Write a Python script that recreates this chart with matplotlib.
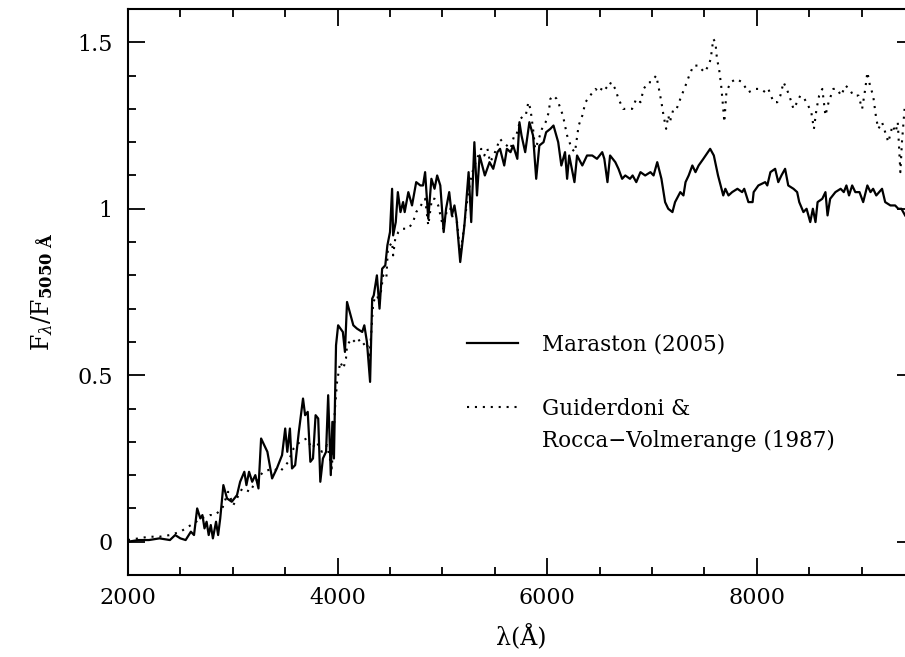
import matplotlib
matplotlib.use('Agg')
import matplotlib.pyplot as plt
from matplotlib.lines import Line2D
from matplotlib.ticker import MultipleLocator, FuncFormatter

# Maraston (2005) model spectrum
lam_m = [2000, 2100, 2200, 2300, 2400, 2450, 2500, 2550, 2600, 2630, 2660, 2690, 2710, 2730,
         2750, 2770, 2790, 2810, 2840, 2860, 2880, 2910, 2945, 2990, 3040, 3070, 3110, 3130,
         3155, 3185, 3215, 3245, 3270, 3300, 3330, 3375, 3420, 3470, 3500, 3520, 3545, 3565,
         3595, 3630, 3670, 3690, 3715, 3740, 3765, 3790, 3815, 3835, 3860, 3890, 3910, 3935,
         3950, 3965, 3985, 4005, 4050, 4070, 4090, 4150, 4185, 4235, 4255, 4280, 4310, 4330,
         4345, 4375, 4400, 4425, 4455, 4475, 4500, 4520, 4530, 4555, 4575, 4600, 4625, 4640,
         4675, 4710, 4750, 4790, 4815, 4835, 4865, 4895, 4925, 4950, 4980, 5012, 5035, 5065,
         5090, 5115, 5135, 5170, 5210, 5250, 5275, 5305, 5330, 5355, 5405, 5450, 5485, 5525,
         5550, 5590, 5615, 5650, 5675, 5715, 5735, 5755, 5790, 5830, 5865, 5895, 5925, 5965,
         5990, 6030, 6060, 6105, 6135, 6170, 6190, 6210, 6260, 6285, 6335, 6380, 6430, 6475,
         6525, 6545, 6575, 6600, 6650, 6680, 6715, 6745, 6790, 6815, 6850, 6890, 6935, 6985,
         7015, 7050, 7090, 7125, 7155, 7195, 7220, 7270, 7300, 7320, 7350, 7385, 7415, 7445,
         7490, 7555, 7590, 7630, 7655, 7680, 7700, 7730, 7765, 7815, 7860, 7880, 7920, 7960,
         7970, 8015, 8080, 8100, 8130, 8175, 8205, 8235, 8270, 8300, 8350, 8385, 8405, 8445,
         8475, 8510, 8535, 8560, 8580, 8625, 8655, 8675, 8700, 8750, 8800, 8830, 8855, 8880,
         8910, 8940, 8980, 9015, 9055, 9085, 9110, 9140, 9195, 9225, 9275, 9320, 9350, 9380,
         9415]
flux_m = [0.00, 0.005, 0.005, 0.01, 0.005, 0.02, 0.01, 0.005, 0.03, 0.02, 0.10, 0.07, 0.08, 0.04,
          0.06, 0.02, 0.05, 0.01, 0.06, 0.02, 0.07, 0.17, 0.13, 0.12, 0.14, 0.18, 0.21, 0.17,
          0.21, 0.18, 0.20, 0.16, 0.31, 0.29, 0.27, 0.19, 0.22, 0.26, 0.34, 0.27, 0.34, 0.22,
          0.23, 0.33, 0.43, 0.38, 0.39, 0.24, 0.25, 0.38, 0.37, 0.18, 0.25, 0.27, 0.44, 0.20,
          0.36, 0.25, 0.59, 0.65, 0.63, 0.57, 0.72, 0.65, 0.64, 0.63, 0.65, 0.60, 0.48, 0.73,
          0.74, 0.80, 0.70, 0.82, 0.83, 0.89, 0.93, 1.06, 0.92, 0.96, 1.05, 0.99, 1.02, 0.99,
          1.05, 1.01, 1.08, 1.07, 1.07, 1.11, 0.97, 1.09, 1.06, 1.10, 1.07, 0.93, 1.00, 1.05,
          0.98, 1.01, 0.97, 0.84, 0.95, 1.11, 0.96, 1.20, 1.04, 1.16, 1.10, 1.14, 1.12, 1.17,
          1.18, 1.13, 1.18, 1.17, 1.19, 1.15, 1.26, 1.22, 1.17, 1.26, 1.22, 1.09, 1.19, 1.20,
          1.23, 1.24, 1.25, 1.20, 1.13, 1.17, 1.09, 1.16, 1.08, 1.16, 1.13, 1.16, 1.16, 1.15,
          1.17, 1.15, 1.08, 1.16, 1.14, 1.12, 1.09, 1.10, 1.09, 1.10, 1.08, 1.11, 1.10, 1.11,
          1.10, 1.14, 1.09, 1.02, 1.00, 0.99, 1.02, 1.05, 1.04, 1.08, 1.10, 1.13, 1.11, 1.13,
          1.15, 1.18, 1.16, 1.10, 1.07, 1.04, 1.06, 1.04, 1.05, 1.06, 1.05, 1.06, 1.02, 1.02,
          1.05, 1.07, 1.08, 1.07, 1.11, 1.12, 1.08, 1.10, 1.12, 1.07, 1.06, 1.05, 1.02, 0.99,
          1.00, 0.96, 1.00, 0.96, 1.02, 1.03, 1.05, 0.98, 1.03, 1.05, 1.06, 1.05, 1.07, 1.04,
          1.07, 1.05, 1.05, 1.02, 1.07, 1.05, 1.06, 1.04, 1.06, 1.02, 1.01, 1.01, 1.00, 1.00,
          0.98]

# Guiderdoni & Rocca-Volmerange (1987)
lam_g = [2000, 2100, 2200, 2300, 2400, 2500, 2600, 2700, 2780, 2830, 2900, 2955, 3005, 3090,
         3165, 3215, 3290, 3385, 3450, 3530, 3580, 3640, 3705, 3755, 3800, 3850, 3900, 3945,
         3975, 3995, 4025, 4055, 4080, 4090, 4135, 4165, 4195, 4235, 4280, 4300, 4320, 4340,
         4375, 4400, 4435, 4465, 4480, 4520, 4530, 4550, 4580, 4615, 4640, 4675, 4720, 4750,
         4795, 4835, 4865, 4900, 4925, 4960, 5010, 5045, 5080, 5100, 5140, 5170, 5200, 5235,
         5265, 5295, 5330, 5370, 5400, 5430, 5455, 5490, 5550, 5575, 5615, 5650, 5685, 5705,
         5745, 5775, 5795, 5820, 5840, 5865, 5885, 5910, 5950, 5985, 6015, 6030, 6060, 6090,
         6105, 6150, 6190, 6235, 6265, 6300, 6335, 6365, 6410, 6460, 6500, 6535, 6575, 6610,
         6650, 6680, 6725, 6760, 6810, 6850, 6890, 6920, 6965, 6990, 7040, 7060, 7090, 7110,
         7135, 7155, 7170, 7205, 7235, 7270, 7320, 7355, 7395, 7445, 7470, 7500, 7540, 7560,
         7585, 7605, 7620, 7640, 7660, 7680, 7690, 7710, 7750, 7805, 7860, 7920, 7985, 8040,
         8080, 8110, 8160, 8195, 8225, 8255, 8285, 8310, 8350, 8385, 8415, 8455, 8490, 8520,
         8545, 8570, 8595, 8625, 8655, 8685, 8730, 8765, 8805, 8845, 8885, 8920, 8970, 9005,
         9035, 9055, 9080, 9110, 9140, 9160, 9195, 9225, 9255, 9295, 9325, 9345, 9370, 9385,
         9410]
flux_g = [0.005, 0.01, 0.015, 0.015, 0.02, 0.03, 0.05, 0.07, 0.08, 0.08, 0.10, 0.15, 0.11, 0.16,
          0.15, 0.18, 0.21, 0.22, 0.21, 0.24, 0.28, 0.30, 0.31, 0.28, 0.30, 0.27, 0.29, 0.22,
          0.40, 0.48, 0.54, 0.52, 0.55, 0.59, 0.61, 0.60, 0.61, 0.59, 0.60, 0.55, 0.62, 0.72,
          0.74, 0.72, 0.80, 0.79, 0.88, 0.90, 0.86, 0.91, 0.93, 0.94, 0.94, 0.94, 0.96, 0.99,
          1.01, 1.03, 0.95, 1.03, 1.03, 1.01, 0.94, 1.00, 1.00, 0.97, 0.96, 0.86, 0.93, 1.02,
          1.08, 1.12, 1.15, 1.18, 1.16, 1.18, 1.14, 1.16, 1.21, 1.20, 1.19, 1.18, 1.22, 1.22,
          1.27, 1.28, 1.28, 1.32, 1.30, 1.24, 1.18, 1.20, 1.24, 1.26, 1.29, 1.33, 1.34, 1.33,
          1.32, 1.28, 1.22, 1.18, 1.17, 1.25, 1.28, 1.32, 1.34, 1.36, 1.35, 1.37, 1.36, 1.38,
          1.36, 1.33, 1.30, 1.30, 1.30, 1.33, 1.32, 1.36, 1.38, 1.38, 1.40, 1.37, 1.32, 1.28,
          1.24, 1.28, 1.26, 1.30, 1.30, 1.33, 1.37, 1.40, 1.43, 1.43, 1.42, 1.41, 1.43, 1.45,
          1.51, 1.50, 1.45, 1.42, 1.37, 1.30, 1.26, 1.35, 1.38, 1.39, 1.38, 1.35, 1.36, 1.36,
          1.35, 1.36, 1.32, 1.32, 1.34, 1.38, 1.36, 1.34, 1.30, 1.32, 1.34, 1.33, 1.31, 1.29,
          1.24, 1.30, 1.34, 1.36, 1.28, 1.32, 1.36, 1.36, 1.34, 1.37, 1.36, 1.34, 1.34, 1.30,
          1.36, 1.41, 1.37, 1.34, 1.27, 1.24, 1.26, 1.23, 1.20, 1.25, 1.23, 1.26, 1.11, 1.20,
          1.30]

labels = ['Maraston (2005)', 'Guiderdoni &', 'Rocca\u2212Volmerange (1987)']

plt.rcParams['font.family'] = ['DejaVu Serif']
plt.rcParams['mathtext.fontset'] = 'dejavuserif'

fig = plt.figure(figsize=(9.05, 6.57), dpi=100)
# right spine sits just beyond the picture edge, as in the original
ax = fig.add_axes([128/905, 1 - 575/657, 786/905, 566/657])

ax.plot(lam_m, flux_m, color='black', lw=1.6)
ax.plot(lam_g, flux_g, color='black', lw=1.5, linestyle=(0, (1, 2.8)))

ax.set_xlim(2000, 9500)
ax.set_ylim(-0.1, 1.6)

ax.xaxis.set_major_locator(MultipleLocator(2000))
ax.xaxis.set_minor_locator(MultipleLocator(500))
ax.yaxis.set_major_locator(MultipleLocator(0.5))
ax.yaxis.set_minor_locator(MultipleLocator(0.1))
ax.yaxis.set_major_formatter(FuncFormatter(lambda v, p: '{:g}'.format(round(v, 2))))

ax.tick_params(which='both', direction='in', top=True, right=True, width=1.3,
               labelsize=16)
ax.tick_params(which='major', length=12, pad=9)
ax.tick_params(axis='y', which='major', pad=11)
ax.tick_params(which='minor', length=6)
for s in ax.spines.values():
    s.set_linewidth(1.5)

ax.set_xlabel('\u03bb(\u00c5)', fontsize=17, labelpad=11)
ax.set_ylabel(r'$\mathrm{F}_{\lambda}/\mathrm{F}_{\mathbf{5050\ \AA}}$', fontsize=17, labelpad=16)

handles = [Line2D([], [], color='black', lw=1.6),
           Line2D([], [], color='none'),
           Line2D([], [], color='black', lw=1.5, linestyle=(0, (1, 2.8))),
           Line2D([], [], color='none')]
leg = ax.legend(handles, [labels[0], ' ', labels[1], labels[2]],
                loc='upper left', bbox_to_anchor=(0.431, 0.427), frameon=False,
                fontsize=15.5, handlelength=2.4, handletextpad=1.1,
                labelspacing=0.48, borderpad=0, borderaxespad=0)

fig.savefig('out.png', dpi=100)
